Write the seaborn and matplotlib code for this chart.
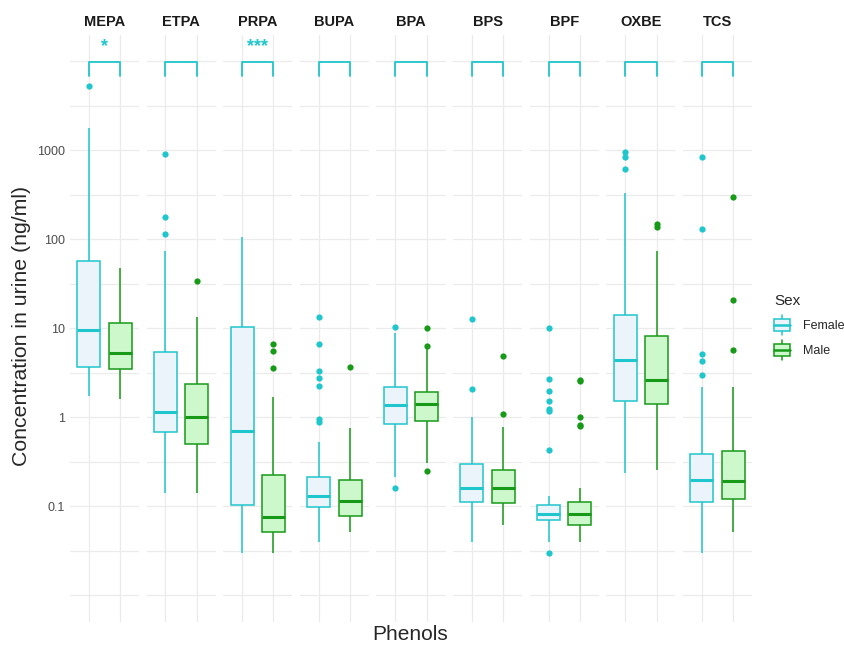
import numpy as np
import pandas as pd
import seaborn as sns
import matplotlib.pyplot as plt
from matplotlib.patches import Rectangle
from matplotlib.lines import Line2D
from matplotlib.legend_handler import HandlerBase

sns.set_style("white")
plt.rcParams['font.family'] = ['Liberation Sans', 'DejaVu Sans']

phenols = ['MEPA', 'ETPA', 'PRPA', 'BUPA', 'BPA', 'BPS', 'BPF', 'OXBE', 'TCS']
sexes = ['Female', 'Male']
signif = ['*', '', '***', '', '', '', '', '', '']

# lower whisker, Q1, median, Q3, upper whisker (ng/ml)
female_box = [
    [1.73, 3.65, 9.6, 57, 1770],
    [0.142, 0.69, 1.15, 5.4, 74],
    [0.030, 0.103, 0.70, 10.4, 107],
    [0.040, 0.098, 0.131, 0.215, 0.53],
    [0.215, 0.85, 1.37, 2.21, 8.8],
    [0.040, 0.112, 0.162, 0.30, 1.0],
    [0.040, 0.071, 0.081, 0.103, 0.13],
    [0.235, 1.52, 4.4, 14.0, 330],
    [0.030, 0.112, 0.196, 0.39, 2.17],
]
male_box = [
    [1.61, 3.52, 5.3, 11.5, 48],
    [0.142, 0.50, 1.02, 2.35, 13.5],
    [0.030, 0.051, 0.076, 0.225, 1.70],
    [0.051, 0.078, 0.116, 0.198, 0.75],
    [0.31, 0.91, 1.40, 1.94, 5.8],
    [0.062, 0.109, 0.162, 0.258, 0.77],
    [0.040, 0.061, 0.081, 0.111, 0.159],
    [0.254, 1.40, 2.6, 8.3, 73],
    [0.051, 0.121, 0.191, 0.418, 2.17],
]
female_out = [
    [5300],
    [916, 178, 116],
    [],
    [13.4, 6.7, 3.3, 2.8, 2.25, 0.95, 0.88],
    [10.3, 0.16],
    [12.7, 2.06],
    [10.1, 2.67, 1.96, 1.52, 1.25, 1.17, 0.43, 0.030],
    [950, 834, 621],
    [834, 132, 5.2, 4.3, 3.0],
]
male_out = [
    [],
    [34],
    [6.7, 5.6, 3.55],
    [3.67],
    [10, 6.4, 0.25],
    [4.9, 1.09],
    [2.6, 2.55, 1.02, 0.83, 0.80],
    [148, 139],
    [301, 20.6, 5.7],
]

edges = {'Female': '#1FC6CB', 'Male': '#179A17'}
fills = {'Female': '#EBF4FB', 'Male': '#CCF8CC'}

rows, orows = [], []
for i, ph in enumerate(phenols):
    for sex, box, out in (('Female', female_box, female_out), ('Male', male_box, male_out)):
        for v in box[i]:
            rows.append((ph, sex, v))
        for v in out[i]:
            orows.append((ph, sex, v))
df_box = pd.DataFrame(rows, columns=['phenol', 'sex', 'value'])
df_out = pd.DataFrame(orows, columns=['phenol', 'sex', 'value'])


class BoxGlyph(HandlerBase):
    # small ggplot-like boxplot key, about 1.6 font sizes tall
    def create_artists(self, legend, orig, xd, yd, w, h, fs, trans):
        fc, ec = orig.get_facecolor(), orig.get_edgecolor()
        hh = 1.6 * fs
        x0 = -xd
        y0 = -yd + h / 2 - hh / 2
        arts = [
            Line2D([x0 + w / 2] * 2, [y0, y0 + 0.2 * hh], color=ec, lw=1.1),
            Line2D([x0 + w / 2] * 2, [y0 + 0.8 * hh, y0 + hh], color=ec, lw=1.1),
            Rectangle((x0, y0 + 0.2 * hh), w, 0.6 * hh, facecolor=fc, edgecolor=ec, lw=1.1),
            Line2D([x0, x0 + w], [y0 + 0.5 * hh] * 2, color=ec, lw=1.8),
        ]
        for a in arts:
            a.set_transform(trans)
        return arts


fig, axes = plt.subplots(1, 9, figsize=(8.45, 6.45), dpi=100, sharey=True)
fig.subplots_adjust(left=70/845, right=752/845, top=1-35/645, bottom=1-622/645, wspace=0.11)

for i, (ax, ph) in enumerate(zip(axes, phenols)):
    for sex in sexes:
        d = df_box[(df_box.phenol == ph) & (df_box.sex == sex)]
        sns.boxplot(data=d, x='sex', y='value', order=sexes, color=fills[sex],
                    linecolor=edges[sex], saturation=1, width=0.73, whis=(0, 100),
                    showcaps=False, linewidth=1.1, medianprops=dict(linewidth=2.2),
                    log_scale=True, ax=ax)
        o = df_out[(df_out.phenol == ph) & (df_out.sex == sex)]
        if len(o):
            sns.stripplot(data=o, x='sex', y='value', order=sexes, color=edges[sex],
                          jitter=False, size=4.5, linewidth=0, ax=ax, zorder=4)

    # significance bracket
    ax.plot([0, 0, 1, 1], [10**3.83, 10**3.99, 10**3.99, 10**3.83],
            color=edges['Female'], lw=1.3, clip_on=False)
    if signif[i]:
        ax.text(0.5, 10**4.17, signif[i], ha='center', va='center',
                color=edges['Female'], fontsize=13, fontweight='bold')

    ax.text(0.5, 1.022, ph, transform=ax.transAxes, ha='center', va='center',
            fontweight='bold', fontsize=10.5, color='#1A1A1A')

    ax.set_yscale('log')
    ax.set_yticks([10.0**k for k in range(-2, 5)])
    ax.set_yticklabels(['', '0.1', '1', '10', '100', '1000', ''])
    ax.set_yticks([10.0**(k + 0.5) for k in range(-2, 4)], minor=True)
    ax.yaxis.set_minor_formatter(plt.NullFormatter())
    ax.set_xticks([0, 1])
    ax.set_xticklabels(['', ''])
    ax.tick_params(which='both', length=0, labelsize=9, labelcolor='#4D4D4D')
    ax.grid(True, which='both', axis='y', color='#EBEBEB', lw=0.9)
    ax.grid(True, which='major', axis='x', color='#EBEBEB', lw=0.9)
    ax.set_axisbelow(True)
    for s in ax.spines.values():
        s.set_visible(False)
    ax.set_xlabel('')
    ax.set_ylabel('')
    ax.set_xlim(-0.6, 1.6)
    ax.set_ylim(10**-2.3, 10**4.296)

fig.text(410/845, 1-634/645, 'Phenols', ha='center', va='center', fontsize=15)
fig.text(22/845, 1-326/645, 'Concentration in urine (ng/ml)', rotation=90,
         ha='center', va='center', fontsize=15.3)

handles = [Rectangle((0, 0), 1, 1, facecolor=fills[s], edgecolor=edges[s], label=s) for s in sexes]
leg = fig.legend(handles=handles, title='Sex', loc='center left',
                 bbox_to_anchor=(774/845, 1-326/645), frameon=False, fontsize=9,
                 title_fontsize=11, handlelength=1.3, handleheight=1.6,
                 labelspacing=0.75, handletextpad=1.0, borderpad=0, borderaxespad=0,
                 handler_map={Rectangle: BoxGlyph()})
leg._legend_box.align = 'left'

fig.savefig('out.png', dpi=100)
